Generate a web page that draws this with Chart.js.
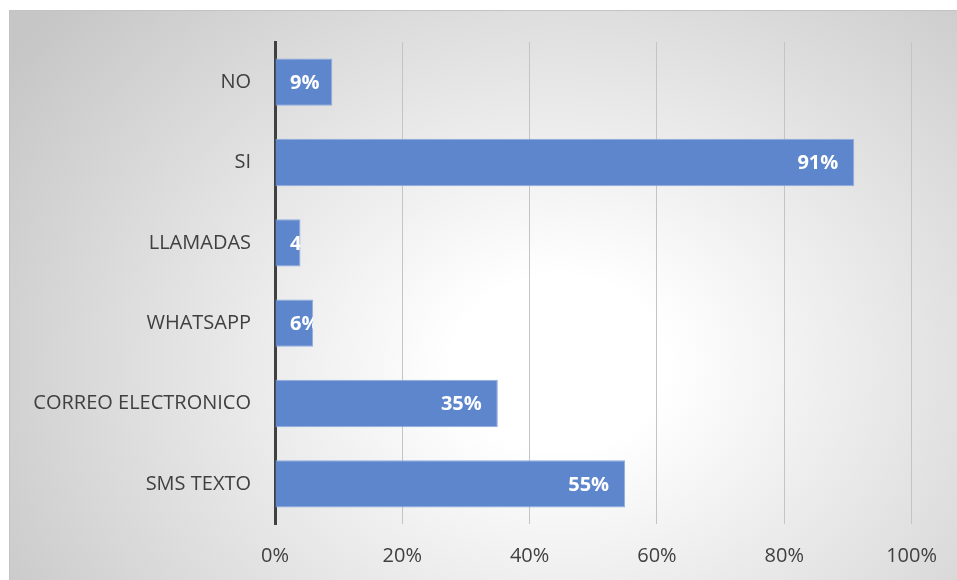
<!DOCTYPE html>
<html>
<head>
<meta charset="utf-8">
<script src="https://cdn.jsdelivr.net/npm/chart.js@4"></script>
<style>
body{margin:0;background:#fff;width:957px;height:580px;overflow:hidden;position:relative}
#panel{position:absolute;left:9px;top:10px;width:948px;height:570px;box-sizing:border-box;overflow:hidden;
border-top:1px solid #c3c3c3;border-left:1px solid #c3c3c3;
background:radial-gradient(ellipse 70% 95% at 58% 62%,#ffffff 0%,#ffffff 16%,#c6c6c6 100%)}
#chart{position:absolute;left:-1px;top:-5px}
</style>
</head>
<body>
<div id="panel"><canvas id="chart" width="948" height="574"></canvas></div>
<script>
const categories = ["NO","SI","LLAMADAS","WHATSAPP","CORREO ELECTRONICO","SMS TEXTO"]
const values = [9,91,4,6,35,55]
const xTicks = [0,20,40,60,80,100]

const FONT = "'Open Sans', 'DejaVu Sans', sans-serif"

// etiquetas dentro de la barra, recortadas
const barLabels = {
id:"barLabels",
afterDatasetsDraw(chart){
const ctx = chart.ctx
const meta = chart.getDatasetMeta(0)
const x0 = chart.scales.x.getPixelForValue(0)
meta.data.forEach((bar,i)=>{
let txt = values[i]+"%"
ctx.save()
ctx.font = "bold 20px "+FONT
let w = ctx.measureText(txt).width
let top = bar.y - bar.height/2
ctx.beginPath()
ctx.rect(x0, top, bar.x - x0, bar.height)
ctx.clip()
let tx = Math.max(bar.x - 16 - w, x0 + 15)
ctx.fillStyle = "#ffffff"
ctx.textAlign = "left"
ctx.textBaseline = "middle"
ctx.fillText(txt, tx, bar.y + 1)
ctx.restore()
})
}
}

new Chart(document.getElementById("chart"),{
type:"bar",
data:{
labels:categories,
datasets:[{
data:values,
backgroundColor:"#5d86cd",
borderColor:"#8fabdd",
borderWidth:1,
borderSkipped:"left",
barPercentage:0.59,
categoryPercentage:1
}]
},
options:{
indexAxis:"y",
responsive:false,
animation:false,
layout:{padding:{top:21,right:43,left:0,bottom:0}},
plugins:{legend:{display:false},tooltip:{enabled:false},title:{display:false}},
scales:{
x:{
min:0,max:100,
afterBuildTicks(s){ s.ticks = xTicks.map(v=>({value:v})) },
afterFit(s){ s.height = 56 },
grid:{color:"#c4c4c4",lineWidth:1,drawTicks:false},
border:{display:false},
ticks:{
padding:20,
color:"#404040",
font:{family:FONT,size:20},
callback:v=>v+"%"
}
},
y:{
afterFit(s){ s.width = 266 },
grid:{display:false,drawTicks:false},
border:{display:true,color:"#404040",width:3},
ticks:{
padding:24,
color:"#404040",
font:{family:FONT,size:20}
}
}
}
},
plugins:[barLabels]
})
</script>
</body>
</html>
